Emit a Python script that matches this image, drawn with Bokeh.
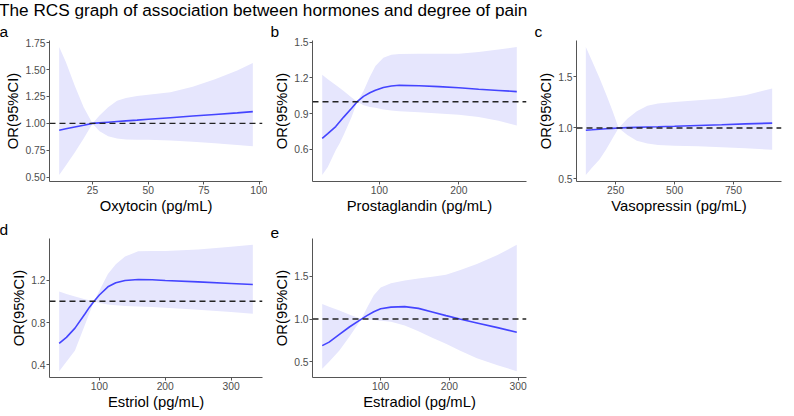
from bokeh.plotting import figure
from bokeh.models import Range1d, FixedTicker, NumeralTickFormatter, Span, Title, Div
from bokeh.layouts import column, row
from bokeh.embed import file_html
from bokeh.resources import INLINE

# ---------------- data ----------------
title_text = "The RCS graph of association between hormones and degree of pain"

# a: Oxytocin
oxy_x = [10, 13, 17, 21, 25, 28, 32, 36, 40, 45, 50, 60, 70, 80, 90, 97]
oxy_or = [0.937, 0.95, 0.967, 0.983, 1.0, 1.005, 1.011, 1.017, 1.023, 1.030, 1.038, 1.053, 1.068, 1.083, 1.098, 1.109]
oxy_hi = [1.71, 1.57, 1.35, 1.15, 1.0, 1.07, 1.15, 1.21, 1.235, 1.255, 1.267, 1.29, 1.34, 1.41, 1.49, 1.56]
oxy_lo = [0.52, 0.61, 0.73, 0.86, 1.0, 0.93, 0.88, 0.86, 0.85, 0.848, 0.847, 0.84, 0.83, 0.815, 0.80, 0.788]
oxy_xticks = [25, 50, 75, 100]
oxy_yticks = [0.5, 0.75, 1.0, 1.25, 1.5, 1.75]

# b: Prostaglandin
pg_x = [28, 35, 45, 50, 55, 65, 72, 80, 88, 95, 105, 115, 125, 150, 175, 200, 225, 250, 273]
pg_or = [0.69, 0.73, 0.79, 0.83, 0.87, 0.945, 1.0, 1.045, 1.075, 1.097, 1.12, 1.132, 1.138, 1.135, 1.127, 1.117, 1.105, 1.095, 1.085]
pg_hi = [1.227, 1.19, 1.14, 1.115, 1.09, 1.036, 1.0, 1.09, 1.21, 1.30, 1.37, 1.395, 1.403, 1.405, 1.405, 1.405, 1.42, 1.44, 1.462]
pg_lo = [0.381, 0.45, 0.59, 0.65, 0.72, 0.87, 1.0, 0.97, 0.955, 0.948, 0.935, 0.925, 0.92, 0.91, 0.90, 0.89, 0.87, 0.84, 0.80]
pg_xticks = [100, 200]
pg_yticks = [0.6, 0.9, 1.2, 1.5]

# c: Vasopressin
vp_x = [124, 150, 182, 210, 237, 263, 300, 340, 385, 430, 500, 600, 700, 800, 914]
vp_or = [0.978, 0.982, 0.987, 0.992, 0.996, 1.0, 1.003, 1.006, 1.009, 1.012, 1.017, 1.025, 1.032, 1.040, 1.048]
vp_hi = [1.795, 1.66, 1.49, 1.33, 1.17, 1.0, 1.09, 1.165, 1.218, 1.24, 1.255, 1.272, 1.29, 1.32, 1.388]
vp_lo = [0.538, 0.61, 0.69, 0.79, 0.897, 1.0, 0.93, 0.875, 0.849, 0.834, 0.826, 0.82, 0.812, 0.80, 0.786]
vp_xticks = [250, 500, 750]
vp_yticks = [0.5, 1.0, 1.5]

# d: Estriol
e3_x = [39, 50, 63, 78, 85, 92, 100, 113, 125, 139, 159, 180, 200, 250, 300, 333]
e3_or = [0.603, 0.66, 0.747, 0.88, 0.945, 1.0, 1.06, 1.137, 1.175, 1.197, 1.206, 1.203, 1.197, 1.183, 1.168, 1.158]
e3_hi = [1.092, 1.07, 1.045, 1.02, 1.01, 1.0, 1.10, 1.257, 1.35, 1.422, 1.473, 1.475, 1.475, 1.49, 1.515, 1.533]
e3_lo = [0.341, 0.43, 0.536, 0.777, 0.89, 1.0, 0.985, 0.97, 0.962, 0.957, 0.952, 0.946, 0.94, 0.92, 0.90, 0.882]
e3_xticks = [100, 200, 300]
e3_yticks = [0.4, 0.8, 1.2]

# e: Estradiol
e2_x = [15, 25, 40, 55, 72, 80, 90, 100, 115, 135, 155, 175, 195, 215, 240, 270, 298]
e2_or = [0.689, 0.73, 0.82, 0.91, 1.0, 1.04, 1.085, 1.12, 1.14, 1.146, 1.125, 1.083, 1.04, 1.0, 0.955, 0.90, 0.846]
e2_hi = [1.176, 1.145, 1.10, 1.05, 1.0, 1.13, 1.28, 1.37, 1.419, 1.452, 1.475, 1.495, 1.52, 1.57, 1.644, 1.75, 1.869]
e2_lo = [0.419, 0.50, 0.633, 0.80, 1.0, 0.995, 0.99, 0.98, 0.97, 0.925, 0.857, 0.78, 0.71, 0.633, 0.54, 0.46, 0.39]
e2_xticks = [100, 200, 300]
e2_yticks = [0.5, 1.0, 1.5]

# ---------------- styling ----------------
FONT = "Liberation Sans"
BAND = "#E6E6FD"
LINE = "#4444FF"
AXIS = "#555555"


def panel(tag, xs, est, lo, hi, xticks, yticks, yfmt, xlabel,
          width, height, left, right, tag_offset):
    x0, x1 = min(xs), max(xs)
    xp = 0.05 * (x1 - x0)
    y0, y1 = min(lo + [1.0]), max(hi + [1.0])
    yp = 0.05 * (y1 - y0)
    p = figure(width=width, height=height,
               x_range=Range1d(x0 - xp, x1 + xp), y_range=Range1d(y0 - yp, y1 + yp),
               output_backend="svg", toolbar_location=None,
               min_border_left=left, min_border_right=right,
               min_border_top=22, min_border_bottom=33)
    p.add_layout(Title(text=tag, align="left", offset=tag_offset, standoff=2,
                       text_font=FONT, text_font_size="15.5px",
                       text_font_style="normal", text_color="black"), "above")
    p.outline_line_color = None
    p.xgrid.visible = False
    p.ygrid.visible = False

    p.varea(x=xs, y1=lo, y2=hi, fill_color=BAND, fill_alpha=1.0)
    p.line(x=xs, y=est, line_color=LINE, line_width=1.6)
    p.add_layout(Span(location=1.0, dimension="width", line_color="#222222",
                      line_width=1.4, line_dash="6 4"))

    for ax in (p.xaxis[0], p.yaxis[0]):
        ax.axis_line_color = AXIS
        ax.axis_line_width = 1
        ax.major_tick_line_color = AXIS
        ax.major_tick_in = 0
        ax.major_tick_out = 3
        ax.minor_tick_line_color = None
        ax.major_label_text_font = FONT
        ax.major_label_text_font_size = "10.3px"
        ax.major_label_text_color = "#4D4D4D"
        ax.major_label_standoff = 1
        ax.axis_label_text_font = FONT
        ax.axis_label_text_font_size = "14.8px"
        ax.axis_label_text_font_style = "normal"
        ax.axis_label_text_color = "black"
        ax.axis_label_standoff = 1

    p.xaxis.ticker = FixedTicker(ticks=xticks)
    p.xaxis.formatter = NumeralTickFormatter(format="0")
    p.yaxis.ticker = FixedTicker(ticks=yticks)
    p.yaxis.formatter = NumeralTickFormatter(format=yfmt)
    p.xaxis.axis_label = xlabel
    p.yaxis.axis_label = "OR(95%CI)"
    return p


ROW1_H = 198
ROW2_H = 196

pa = panel("a", oxy_x, oxy_or, oxy_lo, oxy_hi, oxy_xticks, oxy_yticks, "0.00",
           "Oxytocin (pg/mL)", 268, ROW1_H, 50, 5, -50)
pb = panel("b", pg_x, pg_or, pg_lo, pg_hi, pg_xticks, pg_yticks, "0.0",
           "Prostaglandin (pg/mL)", 262, ROW1_H, 45, 3, -42)
pc = panel("c", vp_x, vp_or, vp_lo, vp_hi, vp_xticks, vp_yticks, "0.0",
           "Vasopressin (pg/mL)", 254, ROW1_H, 47, 2, -42)
pd = panel("d", e3_x, e3_or, e3_lo, e3_hi, e3_xticks, e3_yticks, "0.0",
           "Estriol (pg/mL)", 268, ROW2_H, 50, 5, -50)
pe = panel("e", e2_x, e2_or, e2_lo, e2_hi, e2_xticks, e2_yticks, "0.0",
           "Estradiol (pg/mL)", 262, ROW2_H, 45, 3, -42)

head = Div(text=title_text, width=784, height=18, margin=(0, 0, 0, 0),
           styles={"font-family": FONT, "font-size": "17.2px", "line-height": "20px",
                   "color": "black", "white-space": "nowrap"})

layout = column(head, row(pa, pb, pc), row(pd, pe), margin=(0, 0, 0, -1))

open("out.html", "w").write(file_html(layout, INLINE))
